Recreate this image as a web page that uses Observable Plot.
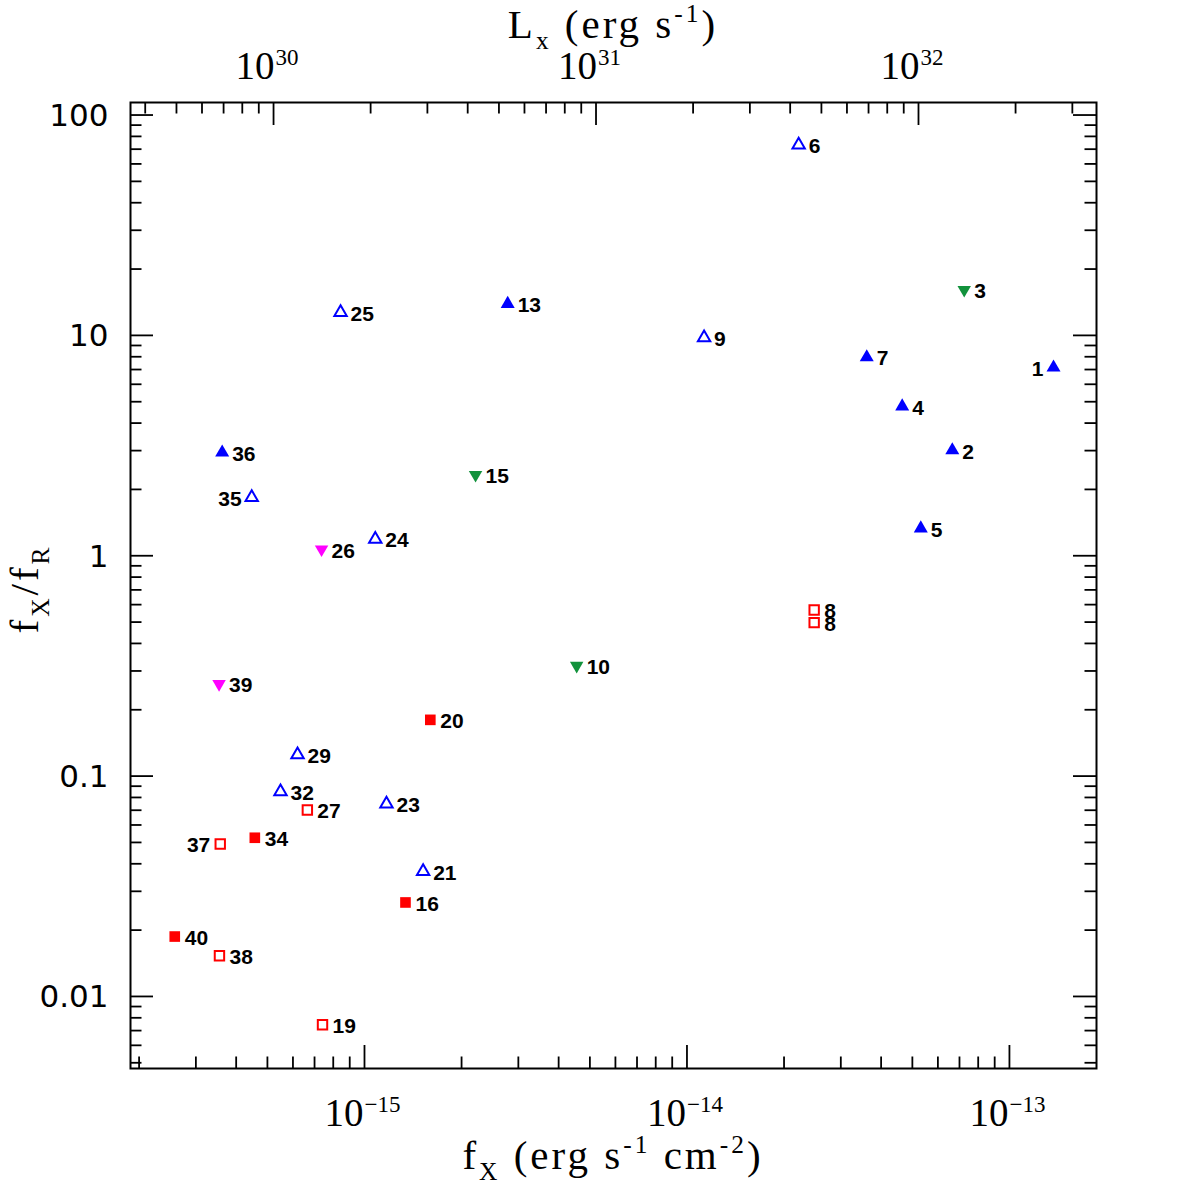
<!DOCTYPE html>
<html>
<head>
<meta charset="utf-8">
<script src="https://cdn.jsdelivr.net/npm/d3@7"></script>
<script src="https://cdn.jsdelivr.net/npm/@observablehq/plot@0.6"></script>
<style>
  body { margin: 0; background: #fff; }
  svg { display: block; }
</style>
</head>
<body>
<div id="chart"></div>
<script>
// X-ray sources: id, X-ray flux (erg s^-1 cm^-2), X-ray to radio flux ratio, marker class
const sourceIds = ["1","2","3","4","5","6","7","8","8","9","10","13","15","16","19","20","21","23","24","25","26","27","29","32","34","35","36","37","38","39","40"];
const fluxX = [1.37e-13, 6.65e-14, 7.24e-14, 4.65e-14, 5.31e-14, 2.22e-14, 3.61e-14, 2.48e-14, 2.48e-14, 1.13e-14,
  4.55e-15, 2.78e-15, 2.21e-15, 1.34e-15, 7.41e-16, 1.60e-15, 1.52e-15, 1.17e-15, 1.08e-15, 8.43e-16,
  7.36e-16, 6.65e-16, 6.20e-16, 5.49e-16, 4.57e-16, 4.47e-16, 3.62e-16, 3.57e-16, 3.55e-16, 3.54e-16, 2.58e-16];
const fluxRatio = [7.15, 3.01, 16.1, 4.76, 1.33, 73.1, 7.96, 0.567, 0.497, 9.76,
  0.317, 13.9, 2.33, 0.0267, 0.00744, 0.180, 0.0369, 0.0747, 1.19, 12.7,
  1.07, 0.0702, 0.125, 0.0849, 0.0525, 1.84, 2.94, 0.0492, 0.0153, 0.262, 0.0187];
const markerClass = ["upFilled","upFilled","downGreen","upFilled","upFilled","upOpen","upFilled","sqOpen","sqOpen","upOpen",
  "downGreen","upFilled","downGreen","sqFilled","sqOpen","sqFilled","upOpen","upOpen","upOpen","upOpen",
  "downMagenta","sqOpen","upOpen","upOpen","sqFilled","upOpen","upFilled","sqOpen","sqOpen","downMagenta","sqFilled"];

// Axis ranges and tick labels
const fluxDomain = [1.881e-16, 1.862e-13];
const ratioDomain = [0.00471, 114];
const fluxMajor = [1e-15, 1e-14, 1e-13];
const fluxExponents = ["−15", "−14", "−13"];
const lumMajor = [1e30, 1e31, 1e32];
const lumExponents = ["30", "31", "32"];
const ratioMajor = [0.01, 0.1, 1, 10, 100];
const ratioLabels = ["0.01", "0.1", "1", "10", "100"];

// Luminosity L = 4 pi d^2 f, for an assumed distance
const distanceKpc = 4.0;
const KPC_CM = 3.0857e21;
const lumFactor = 4 * Math.PI * (distanceKpc * KPC_CM) ** 2;

// Labels drawn to the left of their marker
const leftLabeled = new Set(["1", "35", "37"]);

const rows = sourceIds.map((id, i) => ({id, fx: fluxX[i], ratio: fluxRatio[i], cls: markerClass[i]}));

// minor log ticks (2..9 x 10^n) inside a domain
function minorTicks([lo, hi]) {
  const out = [];
  for (let e = Math.floor(Math.log10(lo)); e <= Math.ceil(Math.log10(hi)); e++) {
    for (let k = 2; k <= 9; k++) {
      const v = k * 10 ** e;
      if (v >= lo && v <= hi) out.push(v);
    }
  }
  return out;
}
const lumDomain = fluxDomain.map(f => f * lumFactor);
const fluxMinor = minorTicks(fluxDomain);
const ratioMinor = minorTicks(ratioDomain);
const lumMinor = minorTicks(lumDomain);
const lumMajorPos = lumMajor.map(L => L / lumFactor);
const lumMinorPos = lumMinor.map(L => L / lumFactor);

const W = 1196, H = 1196;
const mL = 130, mR = 100, mT = 102, mB = 128;
const innerW = W - mL - mR, innerH = H - mT - mB;
const MAJ = 23, MIN = 11.5, TW = 1.8;

const BLUE = "#0000ff", GREEN = "#12923c", MAGENTA = "#ff00ff", RED = "#ff0000";

// downward-pointing triangle, same area convention as d3.symbolTriangle
const triangleDown = {
  draw(ctx, size) {
    const s3 = Math.sqrt(3);
    const y = Math.sqrt(size / (s3 * 3));
    ctx.moveTo(0, 2 * y);
    ctx.lineTo(s3 * y, -y);
    ctx.lineTo(-s3 * y, -y);
    ctx.closePath();
  }
};

const serif = "'Liberation Serif', 'DejaVu Serif', serif";
const sans = "'DejaVu Sans', sans-serif";
const labelFont = "'Liberation Sans', Arial, sans-serif";

const of = cls => rows.filter(d => d.cls === cls);

const plot = Plot.plot({
  width: W,
  height: H,
  marginLeft: mL, marginRight: mR, marginTop: mT, marginBottom: mB,
  x: {type: "log", domain: fluxDomain, axis: null},
  y: {type: "log", domain: ratioDomain, axis: null},
  style: {background: "#fff", overflow: "visible"},
  marks: [
    // bottom ticks (flux)
    Plot.tickX(fluxMinor, {x: d => d, insetTop: innerH - MIN, strokeWidth: TW}),
    Plot.tickX(fluxMajor, {x: d => d, insetTop: innerH - MAJ, strokeWidth: TW}),
    // top ticks (luminosity)
    Plot.tickX(lumMinorPos, {x: d => d, insetBottom: innerH - MIN, strokeWidth: TW}),
    Plot.tickX(lumMajorPos, {x: d => d, insetBottom: innerH - MAJ, strokeWidth: TW}),
    // left and right ticks (ratio)
    Plot.tickY(ratioMinor, {y: d => d, insetRight: innerW - MIN, strokeWidth: TW}),
    Plot.tickY(ratioMajor, {y: d => d, insetRight: innerW - MAJ, strokeWidth: TW}),
    Plot.tickY(ratioMinor, {y: d => d, insetLeft: innerW - MIN, strokeWidth: TW}),
    Plot.tickY(ratioMajor, {y: d => d, insetLeft: innerW - MAJ, strokeWidth: TW}),
    Plot.frame({stroke: "#000", strokeWidth: 2}),

    // bottom tick labels 10^n
    Plot.text(fluxMajor, {x: d => d, frameAnchor: "bottom", lineAnchor: "middle", dy: 45, text: () => "10", textAnchor: "end", dx: -1,
      fontFamily: serif, fontSize: 39}),
    Plot.text(fluxMajor, {x: d => d, frameAnchor: "bottom", lineAnchor: "middle", dy: 36, text: (d, i) => fluxExponents[i], textAnchor: "start", dx: 0,
      fontFamily: serif, fontSize: 23}),
    // top tick labels 10^n (luminosity)
    Plot.text(lumMajorPos, {x: d => d, frameAnchor: "top", lineAnchor: "middle", dy: -36, text: () => "10", textAnchor: "end", dx: 1,
      fontFamily: serif, fontSize: 39}),
    Plot.text(lumMajorPos, {x: d => d, frameAnchor: "top", lineAnchor: "middle", dy: -45, text: (d, i) => lumExponents[i], textAnchor: "start", dx: 2,
      fontFamily: serif, fontSize: 23}),
    // left tick labels
    Plot.text(ratioMajor, {y: d => d, frameAnchor: "left", dx: -22, dy: 1, text: (d, i) => ratioLabels[i], textAnchor: "end",
      fontFamily: sans, fontSize: 31}),

    // markers
    Plot.dot(of("upFilled"), {x: "fx", y: "ratio", symbol: "triangle", r: 5.2, fill: BLUE, stroke: "none"}),
    Plot.dot(of("upOpen"), {x: "fx", y: "ratio", symbol: "triangle", r: 4.6, fill: "none", stroke: BLUE, strokeWidth: 2}),
    Plot.dot(of("downGreen"), {x: "fx", y: "ratio", symbol: triangleDown, r: 5.0, fill: GREEN, stroke: "none"}),
    Plot.dot(of("downMagenta"), {x: "fx", y: "ratio", symbol: triangleDown, r: 5.0, fill: MAGENTA, stroke: "none"}),
    Plot.dot(of("sqFilled"), {x: "fx", y: "ratio", symbol: "square", r: 6.0, fill: RED, stroke: "none"}),
    Plot.dot(of("sqOpen"), {x: "fx", y: "ratio", symbol: "square", r: 5.3, fill: "none", stroke: RED, strokeWidth: 2}),

    // source labels
    Plot.text(rows.filter(d => !leftLabeled.has(d.id)), {x: "fx", y: "ratio", text: "id", dx: 10, dy: 1.5, textAnchor: "start",
      fontFamily: labelFont, fontWeight: "bold", fontSize: 21, fill: "#000"}),
    Plot.text(rows.filter(d => leftLabeled.has(d.id)), {x: "fx", y: "ratio", text: "id", dx: -10, dy: 1.5, textAnchor: "end",
      fontFamily: labelFont, fontWeight: "bold", fontSize: 21, fill: "#000"})
  ]
});

// axis titles with sub/superscripts
const svg = d3.select(plot);
function title(x, y, parts, size, rotate) {
  const t = svg.append("text")
    .attr("text-anchor", "middle")
    .attr("font-family", serif)
    .attr("font-size", size)
    .attr("letter-spacing", 3)
    .attr("fill", "#000")
    .attr("transform", `translate(${x},${y})` + (rotate ? ` rotate(${rotate})` : ""));
  let shift = 0;
  for (const [s, kind] of parts) {
    const target = kind === "sub" ? size * 0.28 : kind === "sup" ? -size * 0.38 : 0;
    t.append("tspan")
      .attr("dy", target - shift)
      .attr("font-size", kind ? size * 0.62 : size)
      .text(s);
    shift = target;
  }
}
title(mL + innerW / 2, 1169, [["f"], ["X", "sub"], [" (erg s"], ["-1", "sup"], [" cm"], ["-2", "sup"], [")"]], 41);
title(mL + innerW / 2, 38, [["L"], ["x", "sub"], [" (erg s"], ["-1", "sup"], [")"]], 41);
title(38, mT + innerH / 2 + 4, [["f"], ["X", "sub"], ["/f"], ["R", "sub"]], 41, -90);

document.getElementById("chart").appendChild(plot);
</script>
</body>
</html>
